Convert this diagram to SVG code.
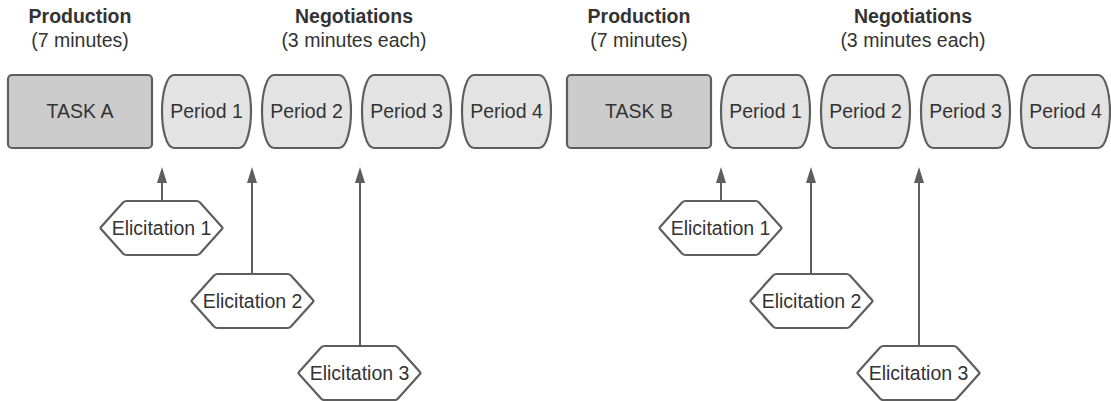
<svg xmlns="http://www.w3.org/2000/svg" width="1111" height="401" viewBox="0 0 1111 401">
<defs>
<style>
text{font-family:"Liberation Sans",Arial,sans-serif;font-size:19.5px;fill:#333333;text-anchor:middle}
.h{font-weight:bold}
.task{fill:#cccccc;stroke:#5e5e5e;stroke-width:2.2}
.per{fill:#e3e3e3;stroke:#5e5e5e;stroke-width:2.2}
.hex{fill:#ffffff;stroke:#5e5e5e;stroke-width:2.2;stroke-linejoin:round}
.conn{stroke:#5e5e5e;stroke-width:2;fill:none}
.head{fill:#5e5e5e}
</style>
<path id="pshape" d="M12,0 H77 C85,0 89,20 89,36.5 C89,53 85,73 77,73 H12 C4,73 0,53 0,36.5 C0,20 4,0 12,0 Z"/>
<path id="hshape" d="M1,28 Q0,27 1,26 L23,1.5 Q24.5,0 26.5,0 L96.5,0 Q98.5,0 100,1.5 L122,26 Q123,27 122,28 L100,52.5 Q98.5,54 96.5,54 L26.5,54 Q24.5,54 23,52.5 Z"/>
</defs>
<rect width="1111" height="401" fill="#ffffff"/>

<g id="headings">
<text class="h" x="80" y="23">Production</text>
<text x="80" y="47">(7 minutes)</text>
<text class="h" x="354" y="23">Negotiations</text>
<text x="354" y="47">(3 minutes each)</text>
<text class="h" x="639" y="23">Production</text>
<text x="639" y="47">(7 minutes)</text>
<text class="h" x="913" y="23">Negotiations</text>
<text x="913" y="47">(3 minutes each)</text>
</g>

<g id="connectors">
<path class="conn" d="M162,201 V183"/>
<path class="head" d="M157,183 L167,183 L162,167 Z"/>
<path class="conn" d="M252,274 V183"/>
<path class="head" d="M247,183 L257,183 L252,167 Z"/>
<path class="conn" d="M360,346 V183"/>
<path class="head" d="M355,183 L365,183 L360,167 Z"/>
<path class="conn" d="M721,201 V183"/>
<path class="head" d="M716,183 L726,183 L721,167 Z"/>
<path class="conn" d="M811,274 V183"/>
<path class="head" d="M806,183 L816,183 L811,167 Z"/>
<path class="conn" d="M919,346 V183"/>
<path class="head" d="M914,183 L924,183 L919,167 Z"/>
</g>

<g id="taskA"><rect class="task" x="8" y="75" width="144" height="73" rx="4"/><text x="80" y="118">TASK A</text></g>
<g id="a_period1" transform="translate(162,75)"><use href="#pshape" class="per"/><text x="44.5" y="43">Period 1</text></g>
<g id="a_period2" transform="translate(262,75)"><use href="#pshape" class="per"/><text x="44.5" y="43">Period 2</text></g>
<g id="a_period3" transform="translate(362,75)"><use href="#pshape" class="per"/><text x="44.5" y="43">Period 3</text></g>
<g id="a_period4" transform="translate(462,75)"><use href="#pshape" class="per"/><text x="44.5" y="43">Period 4</text></g>

<g id="taskB"><rect class="task" x="567" y="75" width="144" height="73" rx="4"/><text x="639" y="118">TASK B</text></g>
<g id="b_period1" transform="translate(721,75)"><use href="#pshape" class="per"/><text x="44.5" y="43">Period 1</text></g>
<g id="b_period2" transform="translate(821,75)"><use href="#pshape" class="per"/><text x="44.5" y="43">Period 2</text></g>
<g id="b_period3" transform="translate(921,75)"><use href="#pshape" class="per"/><text x="44.5" y="43">Period 3</text></g>
<g id="b_period4" transform="translate(1021,75)"><use href="#pshape" class="per"/><text x="44.5" y="43">Period 4</text></g>

<g id="a_elic1" transform="translate(100,201)"><use href="#hshape" class="hex"/><text x="61.5" y="34">Elicitation 1</text></g>
<g id="a_elic2" transform="translate(191,274)"><use href="#hshape" class="hex"/><text x="61.5" y="34">Elicitation 2</text></g>
<g id="a_elic3" transform="translate(298,346)"><use href="#hshape" class="hex"/><text x="61.5" y="34">Elicitation 3</text></g>
<g id="b_elic1" transform="translate(659,201)"><use href="#hshape" class="hex"/><text x="61.5" y="34">Elicitation 1</text></g>
<g id="b_elic2" transform="translate(750,274)"><use href="#hshape" class="hex"/><text x="61.5" y="34">Elicitation 2</text></g>
<g id="b_elic3" transform="translate(857,346)"><use href="#hshape" class="hex"/><text x="61.5" y="34">Elicitation 3</text></g>
</svg>
